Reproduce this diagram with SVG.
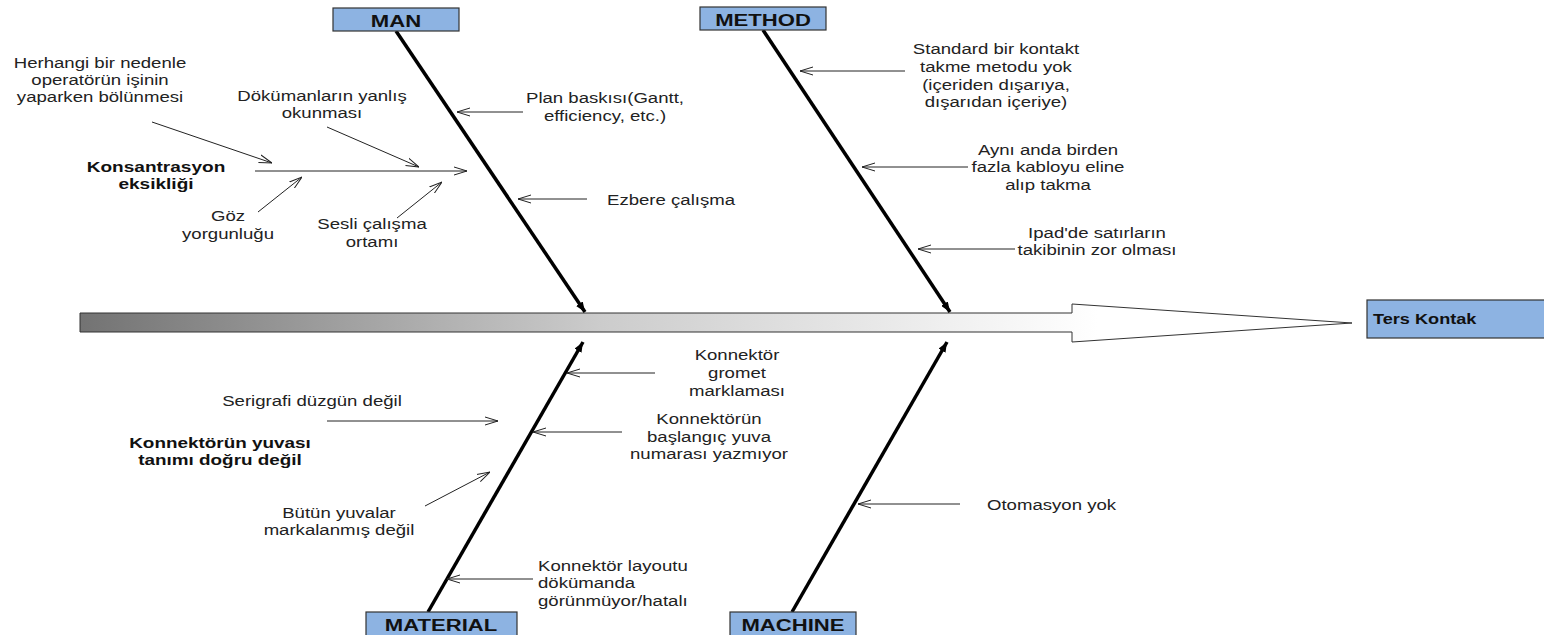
<svg xmlns="http://www.w3.org/2000/svg" width="1544" height="635" viewBox="0 0 1544 635">
<style>
.lbl{font-family:"Liberation Sans",Arial,sans-serif;font-size:15px;fill:#222;text-anchor:middle}
.st{text-anchor:start}
.bold{font-weight:bold;fill:#111}
.cat{font-family:"Liberation Sans",Arial,sans-serif;font-size:17px;font-weight:bold;fill:#111;text-anchor:middle}
.box{fill:#8db3e2;stroke:#333;stroke-width:1.2}
.bone{stroke:#000;stroke-width:3.5;fill:none;marker-end:url(#solid)}
.sub{stroke:#222;stroke-width:1;fill:none;marker-end:url(#open)}
</style>
<defs>
<linearGradient id="spg" gradientUnits="userSpaceOnUse" x1="80" y1="0" x2="1352" y2="0">
<stop offset="0" stop-color="#737373"/>
<stop offset="0.41" stop-color="#cccccc"/>
<stop offset="0.8" stop-color="#ffffff"/>
<stop offset="1" stop-color="#ffffff"/>
</linearGradient>
<marker id="open" viewBox="0 0 13 10" refX="13" refY="5" markerWidth="13" markerHeight="10" markerUnits="userSpaceOnUse" orient="auto">
<path d="M0,1 L13,5 L0,9" fill="none" stroke="#222" stroke-width="1"/>
</marker>
<marker id="solid" viewBox="0 0 10 8" refX="10" refY="4" markerWidth="10" markerHeight="8" markerUnits="userSpaceOnUse" orient="auto">
<path d="M0,0 L10,4 L0,8 Z" fill="#000"/>
</marker>
</defs>
<g id="spine">
<polygon points="80,313 1072,313 1072,304 1352,323 1072,342 1072,332 80,332" fill="url(#spg)" stroke="#333" stroke-width="1"/>
</g>
<g id="effect">
<rect class="box" x="1367" y="300" width="180" height="38"/>
<text transform="translate(1373,324) scale(1.21,1)" style="font-family:'Liberation Sans',Arial,sans-serif;font-size:15px;font-weight:bold;fill:#111">Ters Kontak</text>
</g>
<g id="connectors">
<line class="bone" x1="396" y1="31" x2="585" y2="312"/>
<line class="bone" x1="763" y1="30" x2="950" y2="312"/>
<line class="bone" x1="428" y1="612" x2="583" y2="342"/>
<line class="bone" x1="792" y1="612" x2="947" y2="342"/>
<line class="sub" x1="152" y1="122" x2="272" y2="163"/>
<line class="sub" x1="327" y1="127" x2="419" y2="167"/>
<line class="sub" x1="255" y1="171" x2="467" y2="171"/>
<line class="sub" x1="258" y1="212" x2="302" y2="177"/>
<line class="sub" x1="397" y1="218" x2="442" y2="182"/>
<line class="sub" x1="523" y1="112" x2="457" y2="112"/>
<line class="sub" x1="587" y1="199" x2="518" y2="199"/>
<line class="sub" x1="905" y1="71" x2="800" y2="71"/>
<line class="sub" x1="968" y1="167" x2="862" y2="167"/>
<line class="sub" x1="1015" y1="249" x2="918" y2="249"/>
<line class="sub" x1="655" y1="373" x2="567" y2="373"/>
<line class="sub" x1="622" y1="432" x2="533" y2="432"/>
<line class="sub" x1="533" y1="579" x2="447" y2="579"/>
<line class="sub" x1="960" y1="504" x2="858" y2="504"/>
<line class="sub" x1="327" y1="421" x2="498" y2="421"/>
<line class="sub" x1="425" y1="506" x2="490" y2="472"/>
</g>
<g id="man">
<rect class="box" x="333" y="8" width="126" height="23"/>
<text class="cat" transform="translate(396,27) scale(1.3,1)">MAN</text>
</g>
<g id="method">
<rect class="box" x="700" y="7" width="126" height="23"/>
<text class="cat" transform="translate(763,26) scale(1.3,1)">METHOD</text>
</g>
<g id="material">
<rect class="box" x="366" y="612" width="151" height="25"/>
<text class="cat" transform="translate(441,631) scale(1.3,1)">MATERIAL</text>
</g>
<g id="machine">
<rect class="box" x="730" y="612" width="126" height="25"/>
<text class="cat" transform="translate(793,631) scale(1.3,1)">MACHINE</text>
</g>
<g id="labels">
<text class="lbl" transform="translate(100,68) scale(1.24,1)">Herhangi bir nedenle</text>
<text class="lbl" transform="translate(100,85) scale(1.24,1)">operatörün işinin</text>
<text class="lbl" transform="translate(100,102) scale(1.24,1)">yaparken bölünmesi</text>
<text class="lbl" transform="translate(322,101) scale(1.24,1)">Dökümanların yanlış</text>
<text class="lbl" transform="translate(322,118) scale(1.24,1)">okunması</text>
<text class="lbl bold" transform="translate(156,172) scale(1.27,1)">Konsantrasyon</text>
<text class="lbl bold" transform="translate(156,189) scale(1.27,1)">eksikliği</text>
<text class="lbl" transform="translate(228,221) scale(1.24,1)">Göz</text>
<text class="lbl" transform="translate(228,239) scale(1.24,1)">yorgunluğu</text>
<text class="lbl" transform="translate(372,229) scale(1.24,1)">Sesli çalışma</text>
<text class="lbl" transform="translate(372,247) scale(1.24,1)">ortamı</text>
<text class="lbl" transform="translate(605,103) scale(1.24,1)">Plan baskısı(Gantt,</text>
<text class="lbl" transform="translate(605,121) scale(1.24,1)">efficiency, etc.)</text>
<text class="lbl" transform="translate(671,205) scale(1.24,1)">Ezbere çalışma</text>
<text class="lbl" transform="translate(996,54) scale(1.24,1)">Standard bir kontakt</text>
<text class="lbl" transform="translate(996,72) scale(1.24,1)">takme metodu yok</text>
<text class="lbl" transform="translate(996,90) scale(1.24,1)">(içeriden dışarıya,</text>
<text class="lbl" transform="translate(996,107) scale(1.24,1)">dışarıdan içeriye)</text>
<text class="lbl" transform="translate(1048,155) scale(1.24,1)">Aynı anda birden</text>
<text class="lbl" transform="translate(1048,172) scale(1.24,1)">fazla kabloyu eline</text>
<text class="lbl" transform="translate(1048,190) scale(1.24,1)">alıp takma</text>
<text class="lbl" transform="translate(1097,238) scale(1.24,1)">Ipad'de satırların</text>
<text class="lbl" transform="translate(1097,255) scale(1.24,1)">takibinin zor olması</text>
<text class="lbl" transform="translate(737,360) scale(1.24,1)">Konnektör</text>
<text class="lbl" transform="translate(737,378) scale(1.24,1)">gromet</text>
<text class="lbl" transform="translate(737,396) scale(1.24,1)">marklaması</text>
<text class="lbl" transform="translate(709,424) scale(1.24,1)">Konnektörün</text>
<text class="lbl" transform="translate(709,442) scale(1.24,1)">başlangıç yuva</text>
<text class="lbl" transform="translate(709,459) scale(1.24,1)">numarası yazmıyor</text>
<text class="lbl st" transform="translate(538,571) scale(1.24,1)">Konnektör layoutu</text>
<text class="lbl st" transform="translate(538,588) scale(1.24,1)">dökümanda</text>
<text class="lbl st" transform="translate(538,606) scale(1.24,1)">görünmüyor/hatalı</text>
<text class="lbl st" transform="translate(987,510) scale(1.24,1)">Otomasyon yok</text>
<text class="lbl" transform="translate(312,406) scale(1.24,1)">Serigrafi düzgün değil</text>
<text class="lbl bold" transform="translate(220,448) scale(1.26,1)">Konnektörün yuvası</text>
<text class="lbl bold" transform="translate(220,465) scale(1.26,1)">tanımı doğru değil</text>
<text class="lbl" transform="translate(339,518) scale(1.24,1)">Bütün yuvalar</text>
<text class="lbl" transform="translate(339,535) scale(1.24,1)">markalanmış değil</text>
</g>
</svg>
